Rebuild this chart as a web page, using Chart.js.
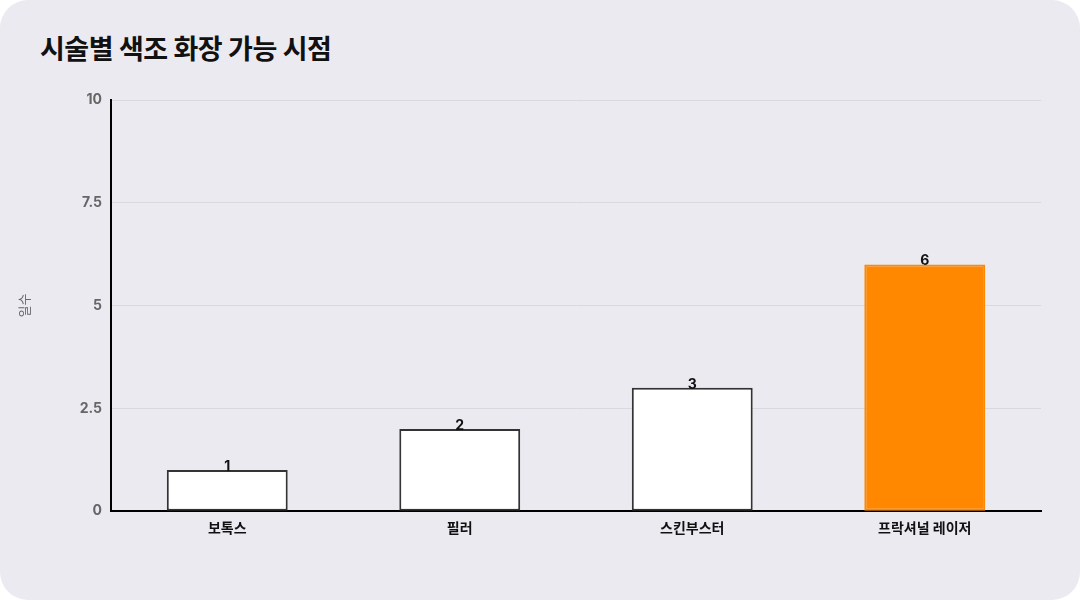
<!DOCTYPE html>
<html>
<head>
<meta charset="utf-8">
<script src="https://cdn.jsdelivr.net/npm/chart.js@4"></script>
<style>
  html, body { margin: 0; padding: 0; background: #ffffff; }
  #card {
    position: relative; width: 1080px; height: 600px;
    background: #ebeaf0; border-radius: 28px; overflow: hidden;
  }
  #title {
    position: absolute; left: 40px; top: 28px; margin: 0;
    font-family: Inter, "Noto Sans CJK KR", sans-serif;
    font-size: 27px; font-weight: 700; color: #111; letter-spacing: -0.5px;
  }
  canvas { position: absolute; left: 0; top: 0; }
</style>
</head>
<body>
<div id="card">
  <h1 id="title">시술별 색조 화장 가능 시점</h1>
  <canvas id="chart" width="1080" height="600"></canvas>
</div>
<script>
// data
var procedures = ['보톡스', '필러', '스킨부스터', '프락셔널 레이저'];
var days = [1, 2, 3, 6];
var barColors = ['#ffffff', '#ffffff', '#ffffff', '#ff8800'];
var borderColors = ['#333333', '#333333', '#333333', '#ff8800'];

var fontFamily = 'Inter, "Noto Sans CJK KR", sans-serif';

// value labels above each bar
var valueLabels = {
	id: 'valueLabels',
	afterDatasetsDraw: function(chart) {
		var ctx = chart.ctx;
		var meta = chart.getDatasetMeta(0);
		ctx.save();
		ctx.font = '700 14px ' + fontFamily;
		ctx.fillStyle = '#111';
		ctx.textAlign = 'center';
		ctx.textBaseline = 'alphabetic';
		meta.data.forEach(function(bar, i) {
			ctx.fillText(String(days[i]), bar.x, bar.y + 1);
		});
		ctx.restore();
	}
};

new Chart(document.getElementById('chart'), {
	type: 'bar',
	data: {
		labels: procedures,
		datasets: [{
			data: days,
			backgroundColor: barColors,
			borderColor: borderColors,
			borderWidth: 2,
			borderSkipped: false,
			barPercentage: 0.52,
			categoryPercentage: 1
		}]
	},
	options: {
		responsive: false,
		animation: false,
		layout: { padding: { left: 17, right: 39, top: 100, bottom: 54 } },
		plugins: {
			legend: { display: false },
			tooltip: { enabled: false }
		},
		scales: {
			x: {
				grid: { display: false, drawTicks: false },
				border: { display: true, color: '#000', width: 2 },
				ticks: { color: '#111', padding: 9, font: { family: fontFamily, size: 14, weight: '700' } }
			},
			y: {
				min: 0, max: 10,
				afterFit: function(scale) { scale.width = 94; },
				grid: { color: '#d8d8de', drawTicks: false },
				border: { display: true, color: '#000', width: 2 },
				ticks: { stepSize: 2.5, color: '#666', padding: 9, font: { family: fontFamily, size: 14, weight: '700' } },
				title: { display: true, text: '일수', color: '#666', padding: 0, font: { family: fontFamily, size: 13 } }
			}
		}
	},
	plugins: [valueLabels]
});
</script>
</body>
</html>
